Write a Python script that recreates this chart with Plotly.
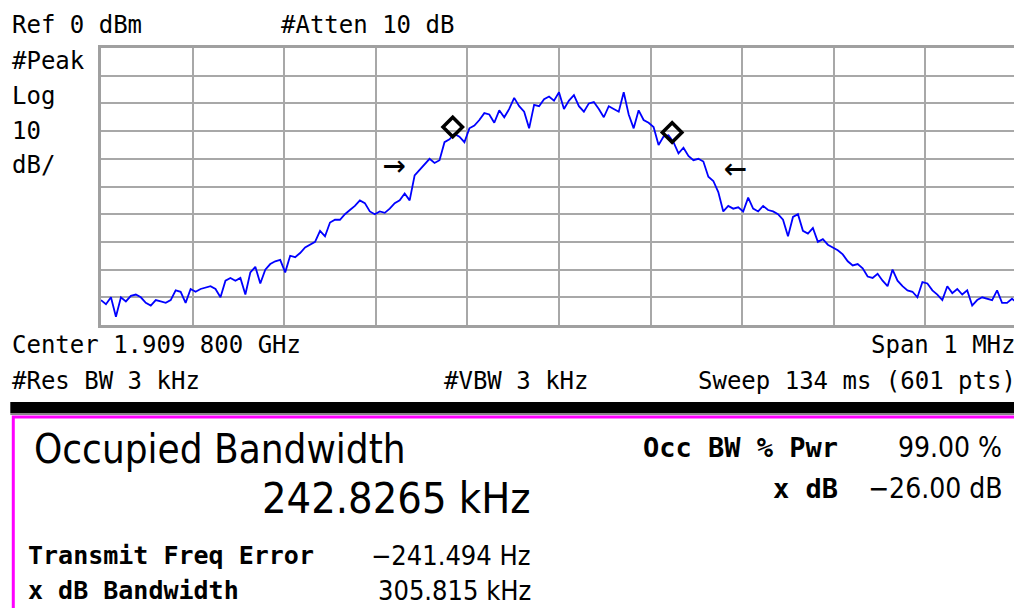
import numpy as np
import plotly.graph_objects as go

# spectrum analyser trace (dBm), left to right across the 1 MHz span
trace_dbm = [
    -91, -92.5, -90, -97, -90, -91.5, -89.5, -89, -90, -92,
    -93, -91, -91.5, -92, -91, -87.5, -88, -92, -87, -88,
    -87, -86.5, -86, -87, -90, -84, -83, -84, -83, -89,
    -81, -79, -85, -80, -78, -77, -76.5, -81, -75, -75.5,
    -74, -72, -71, -70, -66, -68, -63, -62, -62, -60,
    -58.5, -57, -55, -56, -59, -60, -59, -59.5, -58, -56,
    -55, -52.5, -55, -46, -44, -42, -40, -41.5, -40.5, -34,
    -33, -31, -32, -34, -29, -28, -26, -23.5, -24, -27,
    -22.5, -25, -22, -18, -21, -23, -29, -20.5, -21, -18.5,
    -17.5, -19, -16, -22, -19, -17, -21, -23, -20, -19.5,
    -22, -25, -21, -22, -23, -16, -24, -29, -22.5, -26,
    -27, -28.5, -35, -32, -31.5, -34, -38, -36, -39, -40.5,
    -40, -41, -46.5, -48, -52, -59, -57, -58, -57.5, -59,
    -54, -58, -59, -57, -58.5, -59, -60, -62, -68, -61,
    -60, -66, -67, -65, -70, -69, -71, -72, -73, -74.5,
    -77, -78.5, -78, -79.5, -82.5, -83, -81.5, -84, -86, -80,
    -84, -86, -87.5, -88, -90, -84.5, -85, -87.5, -89, -91,
    -86, -88.5, -87, -89, -87.5, -93, -91, -90, -90.5, -91,
    -87.5, -92, -92, -90.5, -92,
]
span_khz = [-500, 500]  # centre 1.909 800 GHz, span 1 MHz
ref_level = [-100, 0]   # ref 0 dBm, 10 dB/div

# occupied bandwidth markers (kHz offset, dBm)
marker_khz = [-116, 123.5]
marker_dbm = [-28.5, -30.5]

# x dB arrows (kHz offset, dBm)
arrow_khz = [-180, 193]
arrow_dbm = [-42, -43]
arrow_txt = ["\u2192", "\u2190"]

freq = np.linspace(span_khz[0], span_khz[1], len(trace_dbm))

# page puts the figure 8px in from the top-left, so the figure is 8px smaller
OFF = 8
W, H = 1022, 608
L, R, T, B = 101, 1020, 48, 325   # plot area in reference px


def px(x):
    return (x - L) / (R - L)


def py(y):
    return (B - y) / (B - T)


MONO = "DejaVu Sans Mono"
NARROW = "Liberation Sans Narrow, DejaVu Sans Condensed, Arial Narrow, sans-serif"

fig = go.Figure()
fig.add_trace(go.Scatter(x=freq, y=trace_dbm, mode="lines",
                         line=dict(color="#0000ff", width=1.8), hoverinfo="skip"))
fig.add_trace(go.Scatter(x=marker_khz, y=marker_dbm, mode="markers",
                         marker=dict(symbol="diamond-open", size=15, color="black",
                                     line=dict(width=3.5, color="black")),
                         hoverinfo="skip"))
for xk, yk, t in zip(arrow_khz, arrow_dbm, arrow_txt):
    fig.add_annotation(x=xk, y=yk, text=t, showarrow=False,
                       font=dict(family=MONO, size=38, color="black"))

texts = [
    # text, x px, y px, anchor, font, size, bold
    ("Ref 0 dBm", 10, 25, "left", MONO, 24, False),
    ("#Atten 10 dB", 280, 25, "left", MONO, 24, False),
    ("#Peak", 10, 61, "left", MONO, 24, False),
    ("Log", 10, 96, "left", MONO, 24, False),
    ("10", 10, 131, "left", MONO, 24, False),
    ("dB/", 10, 165, "left", MONO, 24, False),
    ("Center 1.909 800 GHz", 10, 345, "left", MONO, 24, False),
    ("Span 1 MHz", 1021, 345, "right", MONO, 24, False),
    ("#Res BW 3 kHz", 10, 381, "left", MONO, 24, False),
    ("#VBW 3 kHz", 443, 381, "left", MONO, 24, False),
    ("Sweep 134 ms (601 pts)", 1021, 381, "right", MONO, 24, False),
    ("Occupied Bandwidth", 32, 449, "left", NARROW, 40, False),
    ("242.8265 kHz", 534, 498, "right", NARROW, 43, False),
    ("Transmit Freq Error", 26, 555, "left", MONO, 25, True),
    ("\u2212241.494 Hz", 534, 555, "right", NARROW, 27, False),
    ("x dB Bandwidth", 26, 590, "left", MONO, 25, True),
    ("305.815 kHz", 534, 590, "right", NARROW, 27, False),
    ("Occ BW % Pwr", 842, 447, "right", MONO, 27, True),
    ("99.00 %", 1007, 447, "right", NARROW, 28, False),
    ("x dB", 842, 488, "right", MONO, 27, True),
    ("\u221226.00 dB", 1007, 488, "right", NARROW, 28, False),
]
for t, x, y, anc, fam, size, bold in texts:
    fig.add_annotation(xref="paper", yref="paper", x=px(x), y=py(y),
                       text="<b>%s</b>" % t if bold else t, showarrow=False,
                       xanchor=anc, yanchor="middle",
                       font=dict(family=fam, size=size, color="black"))

# black separator bar and the magenta results panel
fig.add_shape(type="rect", xref="paper", yref="paper", x0=px(10), x1=px(1024),
              y0=py(402), y1=py(413), fillcolor="black", line_width=0, layer="above")
fig.add_shape(type="rect", xref="paper", yref="paper", x0=px(10), x1=px(1024),
              y0=py(413), y1=py(415), fillcolor="#888888", line_width=0, layer="above")
fig.add_shape(type="rect", xref="paper", yref="paper", x0=px(13), x1=px(1030),
              y0=py(417), y1=py(620), fillcolor="rgba(0,0,0,0)",
              line=dict(color="#ff00ff", width=3), layer="above")

fig.update_xaxes(range=span_khz, dtick=100, tick0=-500, showgrid=True,
                 gridcolor="#a8a8a8", gridwidth=2, showticklabels=False, ticks="",
                 zeroline=False, showline=True, linecolor="#a0a0a0", linewidth=3, mirror=True)
fig.update_yaxes(range=ref_level, dtick=10, tick0=-100, showgrid=True,
                 gridcolor="#a8a8a8", gridwidth=2, showticklabels=False, ticks="",
                 zeroline=False, showline=True, linecolor="#a0a0a0", linewidth=3, mirror=True)
fig.update_layout(width=W - OFF, height=H - OFF, showlegend=False,
                  margin=dict(l=L - OFF, r=W - R, t=T - OFF, b=H - B),
                  paper_bgcolor="white", plot_bgcolor="white")

fig.write_html("out.html")
